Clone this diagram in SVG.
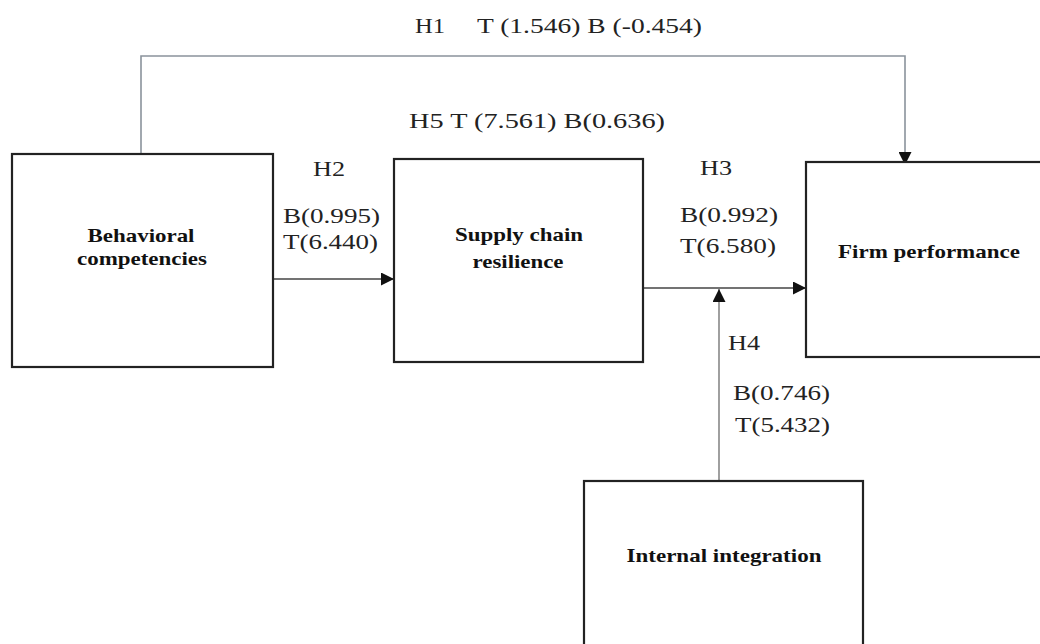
<svg xmlns="http://www.w3.org/2000/svg" width="1040" height="644" viewBox="0 0 1040 644">
<style>
.box{fill:#fff;stroke:#222;stroke-width:2.2}
.lbl{font-family:"Liberation Serif",serif;font-size:21px;fill:#222}
.b{font-family:"Liberation Serif",serif;font-size:19px;font-weight:bold;fill:#111;text-anchor:middle}
.c{fill:none;stroke:#444;stroke-width:1.6}
</style>
<defs>
<marker id="ah" viewBox="0 0 10 10" refX="10" refY="5" markerWidth="13" markerHeight="13" markerUnits="userSpaceOnUse" orient="auto">
<path d="M0,0 L10,5 L0,10 z" fill="#111"/>
</marker>
</defs>
<rect width="1040" height="644" fill="#fff"/>
<g id="connectors">
<path class="c" d="M141,154 V56 H905 V165" style="stroke:#8a939c" marker-end="url(#ah)"/>
<path class="c" d="M273,279 H394" marker-end="url(#ah)"/>
<path class="c" d="M643,288 H806" marker-end="url(#ah)"/>
<path class="c" d="M719,481 V289" style="stroke:#888" marker-end="url(#ah)"/>
</g>
<g id="node-behavioral">
<rect class="box" x="12" y="154" width="261" height="213"/>
<text class="b" x="141" y="242" textLength="107" lengthAdjust="spacingAndGlyphs">Behavioral</text>
<text class="b" x="142" y="265" textLength="130" lengthAdjust="spacingAndGlyphs">competencies</text>
</g>
<g id="node-supply">
<rect class="box" x="394" y="159" width="249" height="203"/>
<text class="b" x="519" y="241" textLength="128" lengthAdjust="spacingAndGlyphs">Supply chain</text>
<text class="b" x="518" y="268" textLength="91" lengthAdjust="spacingAndGlyphs">resilience</text>
</g>
<g id="node-firm">
<rect class="box" x="806" y="162" width="240" height="195"/>
<text class="b" x="929" y="258" textLength="182" lengthAdjust="spacingAndGlyphs">Firm performance</text>
</g>
<g id="node-internal">
<rect class="box" x="584" y="481" width="279" height="180"/>
<text class="b" x="724" y="562" textLength="195" lengthAdjust="spacingAndGlyphs">Internal integration</text>
</g>
<g id="labels">
<text class="lbl" x="415" y="33" textLength="30" lengthAdjust="spacingAndGlyphs">H1</text>
<text class="lbl" x="477" y="33" textLength="225" lengthAdjust="spacingAndGlyphs">T (1.546) B (-0.454)</text>
<text class="lbl" x="409" y="128" textLength="256" lengthAdjust="spacingAndGlyphs">H5  T (7.561) B(0.636)</text>
<text class="lbl" x="313" y="176" textLength="32" lengthAdjust="spacingAndGlyphs">H2</text>
<text class="lbl" x="283" y="223" textLength="97" lengthAdjust="spacingAndGlyphs">B(0.995)</text>
<text class="lbl" x="283" y="249" textLength="95" lengthAdjust="spacingAndGlyphs">T(6.440)</text>
<text class="lbl" x="700" y="175" textLength="32" lengthAdjust="spacingAndGlyphs">H3</text>
<text class="lbl" x="680" y="222" textLength="98" lengthAdjust="spacingAndGlyphs">B(0.992)</text>
<text class="lbl" x="680" y="253" textLength="96" lengthAdjust="spacingAndGlyphs">T(6.580)</text>
<text class="lbl" x="728" y="350" textLength="32" lengthAdjust="spacingAndGlyphs">H4</text>
<text class="lbl" x="733" y="400" textLength="97" lengthAdjust="spacingAndGlyphs">B(0.746)</text>
<text class="lbl" x="735" y="432" textLength="95" lengthAdjust="spacingAndGlyphs">T(5.432)</text>
</g>
</svg>
